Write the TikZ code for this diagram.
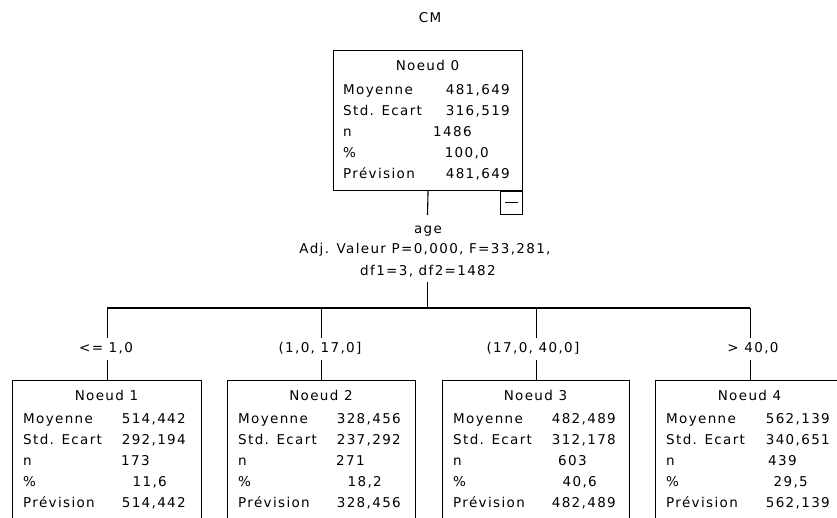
\documentclass[tikz,border=0pt]{standalone}
\usepackage{fontspec}
\setmainfont[LetterSpace=10]{DejaVu Sans}
\begin{document}
\begin{tikzpicture}[x=1pt,y=-1pt,
  box/.style={draw=black,line width=1.1pt,inner sep=0pt,anchor=north west},
  conn/.style={draw=black,line width=1.1pt},
  txt/.style={inner sep=0pt,font=\fontsize{13.5}{15}\selectfont,text=black},
  lab/.style={txt,anchor=base west},
  valr/.style={txt,anchor=base east},
  vall/.style={txt,anchor=base west},
  ttl/.style={txt,anchor=base},
  edgelab/.style={txt,anchor=base,fill=white,inner xsep=1pt,inner ysep=0pt,
    text height=14pt,text depth=8pt}]
\useasboundingbox (0,0) rectangle (837,517);
\clip (0,0) rectangle (837,517);

% title
\node[ttl] (cm) at (430,22) {CM};

% root node
\node[box,minimum width=189pt,minimum height=140pt] (n0) at (333,50) {};
\node[box,minimum width=22pt,minimum height=23pt,anchor=north east] (minus) at (n0.south east) {};
\coordinate (mA) at ([xshift=5pt,yshift=-11pt]minus.north west);
\coordinate (mB) at ([xshift=-5pt,yshift=-11pt]minus.north east);
\draw[line width=1.1pt] (mA) -- (mB);
\node[ttl] (t0) at (427.5,70) {Noeud 0};
\node[lab] (l0a) at (343,94) {Moyenne};      \node[valr] (v0a) at (510,94) {481,649};
\node[lab] (l0b) at (343,115) {Std. Ecart};  \node[valr] (v0b) at (510,115) {316,519};
\node[lab] (l0c) at (343,136) {n};           \node[vall] (v0c) at (433,136) {1486};
\node[lab] (l0d) at (343,157) {\%};          \node[valr] (v0d) at (489,157) {100,0};
\node[lab] (l0e) at (343,178) {Prévision};   \node[valr] (v0e) at (510,178) {481,649};

% split text
\coordinate (s1) at (427.5,215);
\node[ttl] (age) at (428,233) {age};
\node[ttl] (adj) at (425,253) {Adj. Valeur P=0,000, F=33,281,};
\node[ttl] (df) at (428,275) {df1=3, df2=1482};
\coordinate (s2) at (427.5,282);
\coordinate (h) at (427.5,308);
\draw[conn] (n0.south) -- (s1);
\draw[conn] (s2) -- (h);

% child boxes
\node[box,minimum width=189pt,minimum height=170pt] (n1) at (12,380) {};
\node[box,minimum width=188pt,minimum height=170pt] (n2) at (227,380) {};
\node[box,minimum width=187pt,minimum height=170pt] (n3) at (442,380) {};
\node[box,minimum width=189pt,minimum height=170pt] (n4) at (655,380) {};

\coordinate (b1) at (n1.north |- h);
\coordinate (b2) at (n2.north |- h);
\coordinate (b3) at (n3.north |- h);
\coordinate (b4) at (n4.north |- h);
\draw[conn] (b1) -- (b4);
\draw[conn] (b1) -- (n1.north);
\draw[conn] (b2) -- (n2.north);
\draw[conn] (b3) -- (n3.north);
\draw[conn] (b4) -- (n4.north);

% branch labels
\node[edgelab] (e1) at (106,352) {<= 1,0};
\node[edgelab] (e2) at (320,352) {(1,0, 17,0]};
\node[edgelab] (e3) at (533,352) {(17,0, 40,0]};
\node[edgelab] (e4) at (753,352) {> 40,0};

% node 1
\node[ttl] (t1) at (106.5,400) {Noeud 1};
\node[lab] at (23,423) {Moyenne};     \node[valr] at (186,423) {514,442};
\node[lab] at (23,444) {Std. Ecart};  \node[valr] at (186,444) {292,194};
\node[lab] at (23,465) {n};           \node[vall] at (121,465) {173};
\node[lab] at (23,486) {\%};          \node[valr] at (167,486) {11,6};
\node[lab] at (23,507) {Prévision};   \node[valr] at (186,507) {514,442};

% node 2
\node[ttl] (t2) at (321,400) {Noeud 2};
\node[lab] at (238,423) {Moyenne};     \node[valr] at (401,423) {328,456};
\node[lab] at (238,444) {Std. Ecart};  \node[valr] at (401,444) {237,292};
\node[lab] at (238,465) {n};           \node[vall] at (336,465) {271};
\node[lab] at (238,486) {\%};          \node[valr] at (382,486) {18,2};
\node[lab] at (238,507) {Prévision};   \node[valr] at (401,507) {328,456};

% node 3
\node[ttl] (t3) at (535.5,400) {Noeud 3};
\node[lab] at (453,423) {Moyenne};     \node[valr] at (616,423) {482,489};
\node[lab] at (453,444) {Std. Ecart};  \node[valr] at (616,444) {312,178};
\node[lab] at (453,465) {n};           \node[vall] at (558,465) {603};
\node[lab] at (453,486) {\%};          \node[valr] at (597,486) {40,6};
\node[lab] at (453,507) {Prévision};   \node[valr] at (616,507) {482,489};

% node 4
\node[ttl] (t4) at (749.5,400) {Noeud 4};
\node[lab] at (666,423) {Moyenne};     \node[valr] at (830,423) {562,139};
\node[lab] at (666,444) {Std. Ecart};  \node[valr] at (830,444) {340,651};
\node[lab] at (666,465) {n};           \node[vall] at (768,465) {439};
\node[lab] at (666,486) {\%};          \node[valr] at (808,486) {29,5};
\node[lab] at (666,507) {Prévision};   \node[valr] at (830,507) {562,139};
\end{tikzpicture}
\end{document}
